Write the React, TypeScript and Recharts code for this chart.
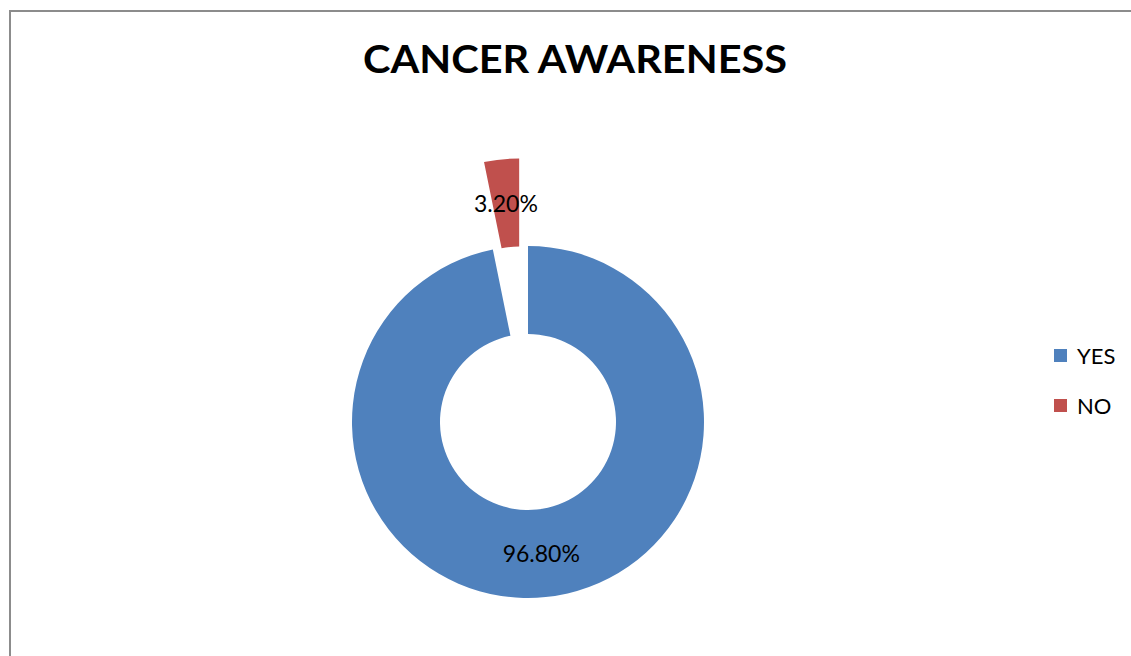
import React from 'react';
import { PieChart, Pie, Cell, Legend } from 'recharts';

const categories = ['YES', 'NO'];
const shares = [96.8, 3.2];
const colors = ['#4F81BD', '#C0504D'];
const title = 'CANCER AWARENESS';

// the small slice is pulled out of the ring
const explodedIndex = 1;
const explodeDistance = 88;

const data = categories.map((name, i) => ({ name, value: shares[i] }));

const CX = 528;
const CY = 422;
const INNER = 88;
const OUTER = 176;
const RAD = Math.PI / 180;
const FONT = 'Lato, "Open Sans", sans-serif';

// mid angle of the exploded slice (clockwise from 12 o'clock)
const total = shares.reduce((a, b) => a + b, 0);
const before = shares.slice(0, explodedIndex).reduce((a, b) => a + b, 0);
const midAngle = 90 - ((before + shares[explodedIndex] / 2) / total) * 360;
const offX = explodeDistance * Math.cos(midAngle * RAD);
const offY = -explodeDistance * Math.sin(midAngle * RAD);

const makeLabel = (only: number) => (props: any) => {
    if (props.index !== only) return null;
    const { cx, cy, midAngle: m, innerRadius, outerRadius, value } = props;
    const r = (innerRadius + outerRadius) / 2;
    const x = cx + r * Math.cos(-m * RAD);
    const y = cy + r * Math.sin(-m * RAD);
    return (
        <text
            x={x}
            y={y}
            textAnchor="middle"
            dominantBaseline="central"
            fill="#000"
            fontSize={23}
            fontFamily={FONT}
        >
            {`${Number(value).toFixed(2)}%`}
        </text>
    );
};

const LegendBox = () => (
    <div style={{ fontFamily: FONT, fontSize: 22, color: '#000' }}>
        {categories.map((c, i) => (
            <div key={c} style={{ display: 'flex', alignItems: 'center', height: 50 }}>
                <span
                    style={{
                        width: 13,
                        height: 13,
                        background: colors[i],
                        display: 'inline-block',
                        marginRight: 10,
                    }}
                />
                <span>{c}</span>
            </div>
        ))}
    </div>
);

export default function App() {
    return (
        <div
            style={{
                position: 'fixed',
                left: 0,
                top: 0,
                width: 1131,
                height: 656,
                overflow: 'hidden',
                background: '#fff',
            }}
        >
            <div
                style={{
                    position: 'absolute',
                    left: 9,
                    top: 10,
                    width: 1200,
                    height: 700,
                    border: '2px solid #8c8c8c',
                }}
            />
            <svg
                width={1131}
                height={120}
                style={{ position: 'absolute', left: 0, top: 0 }}
            >
                <text
                    x={575}
                    y={73}
                    textAnchor="middle"
                    fontFamily={FONT}
                    fontWeight={700}
                    fontSize={39}
                    textLength={424}
                    lengthAdjust="spacingAndGlyphs"
                    fill="#000"
                >
                    {title}
                </text>
            </svg>
            <div style={{ position: 'absolute', left: 0, top: 0 }}>
                <PieChart width={1131} height={656} margin={{ top: 0, right: 0, bottom: 0, left: 0 }}>
                    <Pie
                        data={data}
                        dataKey="value"
                        nameKey="name"
                        cx={CX}
                        cy={CY}
                        innerRadius={INNER}
                        outerRadius={OUTER}
                        startAngle={90}
                        endAngle={-270}
                        stroke="none"
                        labelLine={false}
                        label={makeLabel(0)}
                        isAnimationActive={false}
                    >
                        {data.map((d, i) => (
                            <Cell key={d.name} fill={i === explodedIndex ? 'transparent' : colors[i]} />
                        ))}
                    </Pie>
                    <Pie
                        data={data}
                        dataKey="value"
                        nameKey="name"
                        cx={CX + offX}
                        cy={CY + offY}
                        innerRadius={INNER}
                        outerRadius={OUTER}
                        startAngle={90}
                        endAngle={-270}
                        stroke="none"
                        labelLine={false}
                        label={makeLabel(explodedIndex)}
                        legendType="none"
                        isAnimationActive={false}
                    >
                        {data.map((d, i) => (
                            <Cell key={d.name} fill={i === explodedIndex ? colors[i] : 'transparent'} />
                        ))}
                    </Pie>
                    <Legend
                        content={<LegendBox />}
                        wrapperStyle={{ position: 'absolute', left: 1054, top: 330, width: 80 }}
                    />
                </PieChart>
            </div>
        </div>
    );
}
